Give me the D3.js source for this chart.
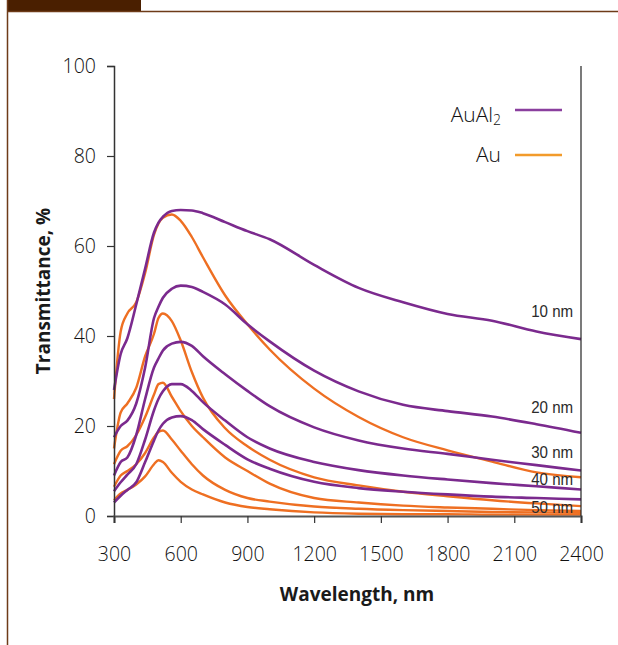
<!DOCTYPE html>
<html>
<head>
<meta charset="utf-8">
<script src="https://cdn.jsdelivr.net/npm/d3@7"></script>
<style>
  body { margin: 0; background: #fff; }
  .tick text { font-family: 'Open Sans', 'Noto Sans', sans-serif; font-weight: 300; font-size: 19.5px; fill: #111; }
  .title { font-family: 'Open Sans', 'Noto Sans', sans-serif; font-weight: 700; font-size: 19px; fill: #1a1a1a; }
  .legend { font-family: 'Open Sans', 'Noto Sans', sans-serif; font-weight: 300; font-size: 21px; fill: #111; }
  .lbl { font-family: 'Liberation Sans', Arial, sans-serif; font-size: 17px; fill: #2b2b2b; }
</style>
</head>
<body>
<div id="chart"></div>
<script>
// wavelength grid, nm
const wavelength = [300, 330, 360, 400, 440, 480, 500, 520, 560, 600, 650, 700, 800, 900, 1000, 1200, 1400, 1600, 1800, 2000, 2200, 2400];

// AuAl2 films, transmittance %
const auAl2_10 = [28, 36, 39.5, 47, 55, 63, 65.2, 66.5, 67.8, 68, 67.9, 67.3, 65.3, 63.3, 61.5, 55.8, 50.7, 47.5, 44.9, 43.4, 41, 39.3];
const auAl2_20 = [17.5, 20, 21.2, 25, 33, 44, 46.5, 48.5, 50.5, 51.2, 50.9, 49.8, 47, 42.6, 38.8, 32.3, 27.7, 24.7, 23.3, 22.1, 20.4, 18.5];
const auAl2_30 = [9, 12, 13, 18, 26, 33, 35, 36.8, 38.3, 38.7, 37.8, 35.5, 31.5, 27.8, 24.4, 19.7, 16.8, 15, 13.8, 12.5, 11.3, 10.1];
const auAl2_40 = [5.5, 7.5, 9.2, 11.5, 17, 23.5, 26, 27.7, 29.3, 29.3, 27.8, 25.3, 21.2, 17.5, 15, 12, 10.2, 9, 8.1, 7.3, 6.6, 5.9];
const auAl2_50 = [3, 4.5, 5.8, 7.5, 12, 16.8, 19, 20.5, 21.9, 22.2, 21.3, 19.3, 15.8, 12.6, 10.5, 7.6, 6.2, 5.4, 4.8, 4.3, 4, 3.7];

// Au films, transmittance %
const au_10 = [26, 41, 45, 47.5, 54, 62.5, 65, 66.3, 67, 65.6, 62, 57.5, 49, 42.6, 37, 28.3, 22, 17.5, 14.6, 12.1, 9.7, 8.6];
const au_20 = [15, 23, 25, 28.5, 35.5, 40.5, 44, 45, 43.3, 39, 32, 26.3, 19.5, 15.5, 12.5, 8.6, 6.8, 5.4, 4.4, 3.5, 2.8, 2.2];
const au_30 = [11.5, 14.5, 15.5, 18, 22, 27, 29.3, 29.6, 26.5, 23.3, 20, 17.5, 13, 10, 7.2, 4, 3, 2.3, 1.9, 1.6, 1.3, 1.1];
const au_40 = [6.5, 9, 10, 11.5, 14, 17.5, 18.7, 19, 17, 14.5, 11.5, 9, 5.8, 4, 3.2, 2.1, 1.6, 1.3, 1.1, 0.9, 0.8, 0.7];
const au_50 = [3.5, 5, 5.8, 7, 8.8, 11.5, 12.4, 12, 9.6, 7.6, 5.9, 4.8, 3, 2, 1.5, 0.8, 0.5, 0.4, 0.4, 0.3, 0.3, 0.3];

const xTicks = [300, 600, 900, 1200, 1500, 1800, 2100, 2400];
const yTicks = [0, 20, 40, 60, 80, 100];
const thickness = ['10 nm', '20 nm', '30 nm', '40 nm', '50 nm'];
const labelAt = [44.2, 22.9, 12.9, 6.9, 0.7];

const purple = '#7b2a8e';
const orange = '#ee6f22';

const width = 618, height = 645;
const m = {left: 114, right: 581, top: 66, bottom: 516};

let svg = d3.select('#chart')
  .append('svg')
  .attr('width', width)
  .attr('height', height);

// page decoration
svg.append('rect').attr('x', 7).attr('y', 0).attr('width', 134).attr('height', 12).attr('fill', '#4a1f00');
svg.append('line').attr('x1', 7).attr('x2', width).attr('y1', 11.5).attr('y2', 11.5)
  .attr('stroke', '#6e3b18').attr('stroke-width', 1.5);
svg.append('line').attr('x1', 7.5).attr('x2', 7.5).attr('y1', 0).attr('y2', height)
  .attr('stroke', '#6e3b18').attr('stroke-width', 1.5);

let x = d3.scaleLinear().domain([300, 2400]).range([m.left, m.right]);
let y = d3.scaleLinear().domain([0, 100]).range([m.bottom, m.top]);

let line = d3.line()
  .curve(d3.curveMonotoneX)
  .x((d, i) => x(wavelength[i]))
  .y(d => y(d));

let plot = svg.append('g');

[au_50, au_40, au_30, au_20, au_10].forEach(s => {
  plot.append('path').datum(s)
    .attr('d', line)
    .attr('fill', 'none')
    .attr('stroke', orange)
    .attr('stroke-width', 2.4);
});

[auAl2_50, auAl2_40, auAl2_30, auAl2_20, auAl2_10].forEach(s => {
  plot.append('path').datum(s)
    .attr('d', line)
    .attr('fill', 'none')
    .attr('stroke', purple)
    .attr('stroke-width', 2.6);
});

// axes
let yAxis = d3.axisLeft(y).tickValues(yTicks).tickSize(7).tickPadding(11).tickFormat(d3.format('d'));
svg.append('g')
  .attr('transform', `translate(${m.left},0)`)
  .call(yAxis)
  .call(g => g.select('.domain').attr('stroke', '#333').attr('stroke-width', 1.5))
  .call(g => g.selectAll('.tick line').attr('stroke', '#333').attr('stroke-width', 1.2));

let xAxis = d3.axisBottom(x).tickValues(xTicks).tickSize(7).tickPadding(24).tickFormat(d3.format('d'));
svg.append('g')
  .attr('transform', `translate(0,${m.bottom})`)
  .call(xAxis)
  .call(g => g.select('.domain').attr('stroke', '#555').attr('stroke-width', 2.2))
  .call(g => g.selectAll('.tick line').attr('stroke', '#333').attr('stroke-width', 1.2));

svg.append('line')
  .attr('x1', m.right).attr('x2', m.right)
  .attr('y1', m.top).attr('y2', m.bottom)
  .attr('stroke', '#222').attr('stroke-width', 1.2);

// axis titles
svg.append('text').attr('class', 'title')
  .attr('transform', `translate(50,${(m.top + m.bottom) / 2}) rotate(-90)`)
  .attr('text-anchor', 'middle')
  .text('Transmittance, %');

svg.append('text').attr('class', 'title')
  .attr('x', 357).attr('y', 601)
  .attr('text-anchor', 'middle')
  .text('Wavelength, nm');

// thickness labels
svg.selectAll('.lbl')
  .data(thickness)
  .enter()
    .append('text')
    .attr('class', 'lbl')
    .attr('x', x(2365))
    .attr('y', (d, i) => y(labelAt[i]))
    .attr('text-anchor', 'end')
    .attr('textLength', 42)
    .attr('lengthAdjust', 'spacingAndGlyphs')
    .text(d => d);

// legend
let legend = svg.append('g');
let lg1 = legend.append('text').attr('class', 'legend')
  .attr('x', 501).attr('y', 122).attr('text-anchor', 'end');
lg1.append('tspan').text('AuAl');
lg1.append('tspan').attr('font-size', '14px').attr('dy', 3).text('2');
legend.append('line').attr('x1', 515).attr('x2', 562).attr('y1', 110).attr('y2', 110)
  .attr('stroke', '#8a3f9e').attr('stroke-width', 2.6);

legend.append('text').attr('class', 'legend')
  .attr('x', 501).attr('y', 162).attr('text-anchor', 'end')
  .text('Au');
legend.append('line').attr('x1', 515).attr('x2', 562).attr('y1', 155).attr('y2', 155)
  .attr('stroke', '#f29b2b').attr('stroke-width', 2.6);
</script>
</body>
</html>
